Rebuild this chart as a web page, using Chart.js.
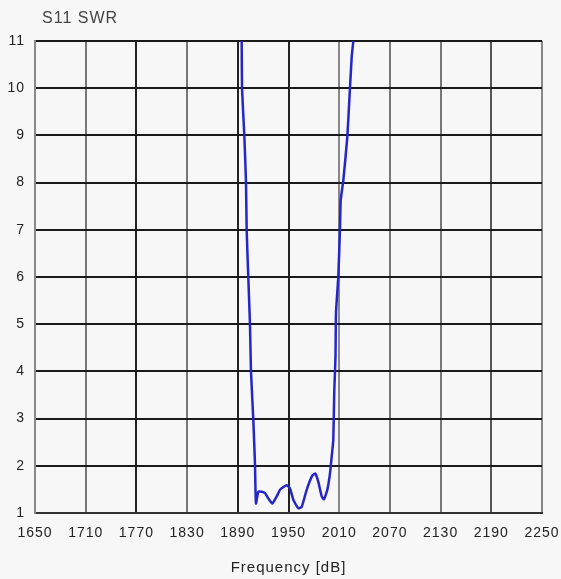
<!DOCTYPE html>
<html>
<head>
<meta charset="utf-8">
<script src="https://cdn.jsdelivr.net/npm/chart.js@4"></script>
<style>
  body { margin: 0; background: #f7f7f7; }
  #wrap { width: 561px; height: 579px; position: relative; }
</style>
</head>
<body>
<div id="wrap"><canvas id="swrChart"></canvas></div>
<script>
// frequency (MHz) and SWR
const freqs = [1894.2, 1894.6, 1895.0, 1897.7, 1899.7, 1900.5, 1902.4, 1904.4, 1905.6, 1908.3,
  1909.8, 1910.4, 1910.8, 1911.5, 1914.3, 1918.3, 1922.2, 1926.5, 1930.8, 1936.0,
  1939.9, 1944.0, 1947.9, 1951.8, 1955.7, 1961.6, 1965.6, 1971.5, 1977.5, 1981.4,
  1985.3, 1989.3, 1992.0, 1995.9, 1999.1, 2001.1, 2003.0, 2004.2, 2005.6, 2006.2,
  2008.9, 2010.9, 2011.8, 2014.9, 2019.6, 2022.0, 2024.8, 2026.7, 2027.5];
const swr = [11.6, 11, 10, 9, 8, 7, 6, 5, 4, 3,
  2.3, 2.0, 1.6, 1.2, 1.45, 1.45, 1.42, 1.3, 1.2, 1.35,
  1.49, 1.55, 1.59, 1.52, 1.28, 1.1, 1.13, 1.49, 1.77, 1.84,
  1.66, 1.35, 1.29, 1.49, 1.84, 2.19, 2.55, 3.6, 4.3, 5.24,
  6.0, 7.0, 7.63, 8.05, 8.97, 9.75, 10.67, 11, 11.3];

const xTicks = [1650, 1710, 1770, 1830, 1890, 1950, 2010, 2070, 2130, 2190, 2250];
const yTicks = [1, 2, 3, 4, 5, 6, 7, 8, 9, 10, 11];

const chartTitle = "S11 SWR";
const xTitle = "Frequency [dB]";

// vertical grid shades (the scan shows some darker than others)
const xGridColors = ["#888", "#777", "#222", "#777", "#222", "#222", "#888", "#777", "#777", "#555", "#888"];

const points = freqs.map((f, i) => ({ x: f, y: swr[i] }));

const titlePlugin = {
  id: "plainTitle",
  beforeDraw(chart) {
    const ctx = chart.ctx;
    ctx.save();
    ctx.fillStyle = "#f7f7f7";
    ctx.fillRect(0, 0, chart.width, chart.height);
    ctx.restore();
    ctx.letterSpacing = "1px";
  },
  afterDraw(chart) {
    const ctx = chart.ctx;
    ctx.save();
    ctx.font = "16px 'Liberation Sans', Arial, sans-serif";
    ctx.fillStyle = "#444";
    ctx.textBaseline = "middle";
    ctx.textAlign = "left";
    ctx.fillText(chartTitle, 42, 19);
    ctx.restore();
  }
};

const ctx = document.getElementById("swrChart").getContext("2d");
const swrChart = new Chart(ctx, {
  type: "line",
  data: {
    datasets: [
      {
        data: points,
        borderColor: "#2525c8",
        borderWidth: 2.5,
        pointRadius: 0,
        tension: 0.15,
        fill: false,
      },
    ],
  },
  options: {
    responsive: true,
    maintainAspectRatio: false,
    animation: false,
    layout: { padding: { top: 41, right: 19, left: 0, bottom: 0 } },
    plugins: {
      legend: { display: false },
      tooltip: { enabled: false },
    },
    scales: {
      x: {
        type: "linear",
        min: 1650,
        max: 2250,
        afterBuildTicks: axis => { axis.ticks = xTicks.map(v => ({ value: v })); },
        afterFit: axis => {
          axis.height = 66;
          axis.paddingLeft = 0;
          axis.paddingRight = 0;
        },
        grid: {
          drawTicks: false,
          color: c => xGridColors[c.index] || "#777",
          lineWidth: 2,
        },
        border: { color: "#333", width: 2 },
        ticks: {
          padding: 12,
          color: "#222",
          callback: v => String(v),
          font: { family: "'Liberation Sans', Arial, sans-serif", size: 14 },
        },
        title: {
          display: true,
          text: xTitle,
          color: "#222",
          font: { family: "'Liberation Sans', Arial, sans-serif", size: 15 },
          padding: { top: 0, bottom: 2 },
        },
      },
      y: {
        type: "linear",
        min: 1,
        max: 11,
        afterBuildTicks: axis => { axis.ticks = yTicks.map(v => ({ value: v })); },
        afterFit: axis => {
          axis.width = 35;
          axis.paddingTop = 0;
          axis.paddingBottom = 0;
        },
        grid: {
          drawTicks: false,
          color: "#1a1a1a",
          lineWidth: 2,
        },
        border: { color: "#888", width: 2 },
        ticks: {
          padding: 10,
          color: "#222",
          callback: v => String(v),
          font: { family: "'Liberation Sans', Arial, sans-serif", size: 14 },
        },
      },
    },
  },
  plugins: [titlePlugin],
});
</script>
</body>
</html>
